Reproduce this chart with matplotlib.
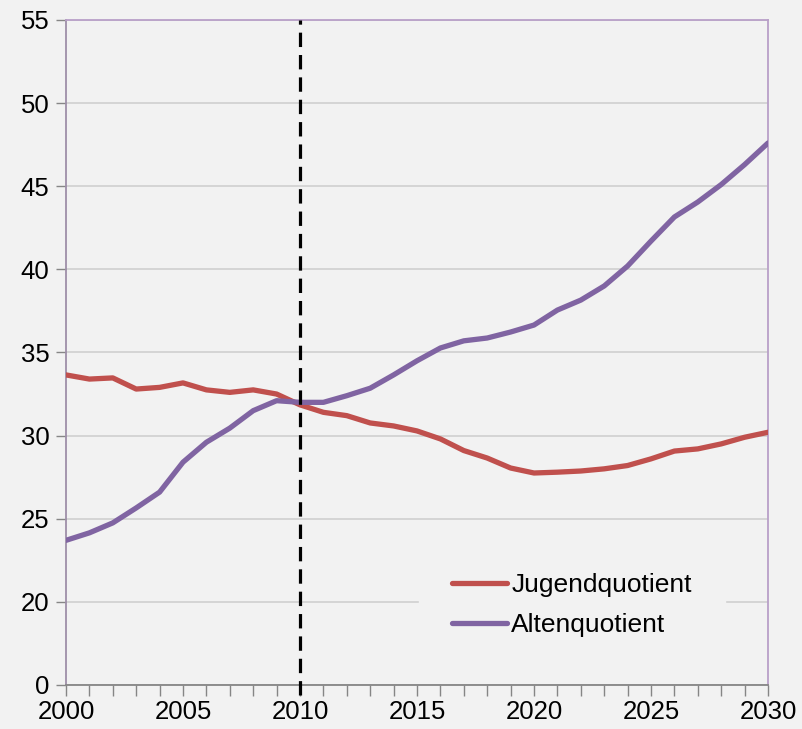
#!/usr/bin/env python3
"""Jugend- und Altenquotient 2000-2030."""

import matplotlib
matplotlib.use("Agg")
import matplotlib.pyplot as plt
from matplotlib.ticker import MultipleLocator

jahre = list(range(2000, 2031))
jugendquotient = [33.65, 33.4, 33.47, 32.8, 32.9, 33.17, 32.75, 32.6, 32.75, 32.5,
                  31.85, 31.4, 31.2, 30.76, 30.58, 30.28, 29.8, 29.1, 28.65, 28.05,
                  27.75, 27.8, 27.87, 28.0, 28.2, 28.6, 29.07, 29.2, 29.5, 29.9, 30.2]
altenquotient = [23.7, 24.15, 24.75, 25.65, 26.6, 28.4, 29.6, 30.45, 31.5, 32.1,
                 32.0, 32.0, 32.4, 32.85, 33.65, 34.5, 35.27, 35.7, 35.87, 36.23,
                 36.65, 37.55, 38.15, 39.0, 40.2, 41.7, 43.15, 44.05, 45.1, 46.3, 47.6]
y_ticks = [15, 20, 25, 30, 35, 40, 45, 50, 55]
y_labels = ["0", "20", "25", "30", "35", "40", "45", "50", "55"]
x_ticks = [2000, 2005, 2010, 2015, 2020, 2025, 2030]

BG = "#F2F2F2"
plt.rcParams["font.family"] = ["Liberation Sans", "DejaVu Sans"]

fig = plt.figure(figsize=(8.02, 7.29), dpi=100, facecolor=BG)
ax = fig.add_axes([0.0823, 0.0604, 0.8753, 0.9122], facecolor=BG)

ax.set_xlim(2000, 2030)
ax.set_ylim(15, 55)
ax.set_yticks(y_ticks)
ax.set_yticklabels(y_labels)
ax.set_xticks(x_ticks)
ax.xaxis.set_minor_locator(MultipleLocator(1))
ax.grid(axis="y", color="#D0D0D0", linewidth=1.2, zorder=0)

ax.plot(jahre, jugendquotient, color="#C0504D", linewidth=3.8,
        solid_capstyle="round", label="Jugendquotient", zorder=3)
ax.plot(jahre, altenquotient, color="#8064A2", linewidth=3.8,
        solid_capstyle="round", label="Altenquotient", zorder=3)
ax.axvline(2010, ymin=-0.015, ymax=1, color="black", linewidth=2.3,
           linestyle=(0, (4.5, 2.5)), zorder=4, clip_on=False)

ax.spines["left"].set_color("#9E8FA8")
ax.spines["top"].set_color("#B9A0C8")
ax.spines["right"].set_color("#B9A0C8")
ax.spines["bottom"].set_color("#868686")
for s in ax.spines.values():
    s.set_linewidth(1.3)

ax.tick_params(axis="y", which="major", length=7, width=1, color="#868686",
               labelsize=18.5, pad=5)
ax.tick_params(axis="x", which="both", length=8, width=1, color="#868686",
               labelsize=18.5, pad=3)

leg = ax.legend(loc="center", bbox_to_anchor=(572 / 802, 1 - 605 / 729),
                bbox_transform=fig.transFigure, frameon=True, fontsize=19,
                handlelength=2.1, handletextpad=0.15, borderpad=1.25,
                labelspacing=0.6, fancybox=False)
leg.get_frame().set_facecolor(BG)
leg.get_frame().set_edgecolor(BG)
leg.get_frame().set_alpha(1)

fig.savefig("out.png", dpi=100, facecolor=BG)
